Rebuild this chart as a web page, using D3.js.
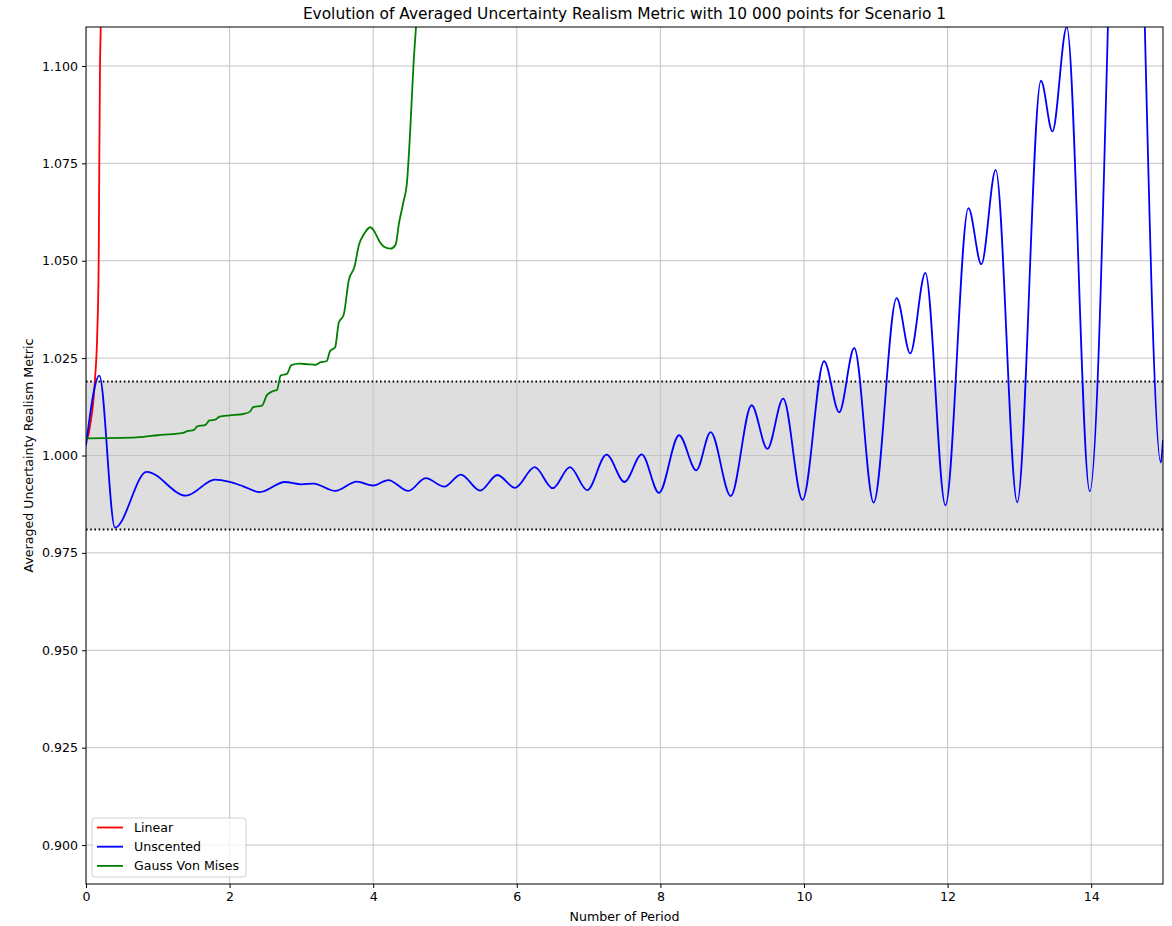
<!DOCTYPE html>
<html>
<head>
<meta charset="utf-8">
<script src="https://cdnjs.cloudflare.com/ajax/libs/d3/7.8.5/d3.min.js"></script>
<style>
    body { margin: 0; background: #fff; }
    svg text { font-family: "DejaVu Sans", sans-serif; fill: #000; }
</style>
</head>
<body>
<div id="chart"></div>
<script>
    /****************************/
    /******data sets & vars******/
    /****************************/
    // values: [number of period, metric]
    var linearData = [
        [0, 1.0040], [0.03, 1.0050], [0.06, 1.0080], [0.10, 1.0135], [0.125, 1.0195],
        [0.157, 1.0315], [0.177, 1.0500], [0.185, 1.0750], [0.195, 1.1000],
        [0.205, 1.1100], [0.215, 1.1300]
    ];
    var unscentedData = [
        [0, 1.0026], [0.186, 1.0205], [0.404, 0.9815], [0.845, 0.9958], [1.393, 0.9897],
        [1.797, 0.9938], [2.0, 0.9932], [2.19, 0.9921], [2.42, 0.9906], [2.77, 0.9932],
        [3.0, 0.9926], [3.17, 0.9928], [3.47, 0.9909], [3.77, 0.9933], [4.0, 0.9923],
        [4.21, 0.9937], [4.49, 0.9909], [4.73, 0.9942], [4.99, 0.9920], [5.22, 0.9951],
        [5.49, 0.9910], [5.73, 0.9950], [5.975, 0.9917], [6.25, 0.9970], [6.50, 0.9916],
        [6.74, 0.9970], [6.98, 0.9911], [7.25, 1.0002], [7.50, 0.9932], [7.74, 1.0003],
        [7.98, 0.9904], [8.26, 1.0052], [8.50, 0.9962], [8.70, 1.0060], [8.98, 0.9896],
        [9.27, 1.0129], [9.49, 1.0017], [9.71, 1.0146], [9.98, 0.9886], [10.28, 1.0242],
        [10.49, 1.0111], [10.70, 1.0276], [10.97, 0.9879], [11.29, 1.0404], [11.48, 1.0262],
        [11.69, 1.0469], [11.97, 0.9872], [12.29, 1.0635], [12.47, 1.0491], [12.67, 1.0733],
        [12.97, 0.9880], [13.30, 1.0962], [13.46, 1.0832], [13.66, 1.1100], [13.98, 0.9908],
        [14.5, 1.2400], [14.97, 0.9982], [15.0, 1.0040]
    ];
    var gaussVonMisesData = [
        [0, 1.0044], [0.5, 1.0045], [0.8, 1.0048], [1.0, 1.0052], [1.2, 1.0055],
        [1.35, 1.0058], [1.42, 1.0063], [1.50, 1.0065], [1.55, 1.0075], [1.66, 1.0078],
        [1.72, 1.0090], [1.80, 1.0092], [1.86, 1.0100], [2.0, 1.0103], [2.2, 1.0107],
        [2.28, 1.0112], [2.33, 1.0124], [2.45, 1.0128], [2.52, 1.0155], [2.60, 1.0165],
        [2.66, 1.0168], [2.71, 1.0205], [2.80, 1.0210], [2.86, 1.0232], [2.97, 1.0236],
        [3.10, 1.0234], [3.20, 1.0233], [3.26, 1.0239], [3.35, 1.0242], [3.40, 1.0268],
        [3.47, 1.0278], [3.52, 1.0340], [3.59, 1.0362], [3.66, 1.0450], [3.74, 1.0485],
        [3.80, 1.0540], [3.87, 1.0568], [3.96, 1.0586], [4.02, 1.0574], [4.09, 1.0549],
        [4.15, 1.0536], [4.24, 1.0531], [4.31, 1.0540], [4.36, 1.0597], [4.42, 1.0650],
        [4.47, 1.0700], [4.52, 1.0850], [4.56, 1.1000], [4.60, 1.1110], [4.65, 1.1250]
    ];
    var bandLow = 0.981;
    var bandHigh = 1.019;
    var xTicks = [0, 2, 4, 6, 8, 10, 12, 14];
    var yTicks = [0.900, 0.925, 0.950, 0.975, 1.000, 1.025, 1.050, 1.075, 1.100];
    var seriesNames = ["Linear", "Unscented", "Gauss Von Mises"];
    var seriesColors = ["#ff0000", "#0000ff", "#008000"];

    var w = 1172;
    var h = 926;
    var plotL = 86, plotR = 1163, plotT = 27, plotB = 884;
    var smallFont = "12.6px";

    var svg = d3.select("#chart")
        .append("svg")
        .attr("width", w)
        .attr("height", h);

    var xScale = d3.scaleLinear().domain([0, 15]).range([plotL, plotR]);
    var yScale = d3.scaleLinear().domain([0.89, 1.11]).range([plotB, plotT]);

    svg.append("clipPath")
        .attr("id", "plotClip")
        .append("rect")
        .attr("x", plotL)
        .attr("y", plotT)
        .attr("width", plotR - plotL)
        .attr("height", plotB - plotT);

    var plot = svg.append("g").attr("clip-path", "url(#plotClip)");

    // grey tolerance band
    plot.append("rect")
        .attr("x", plotL)
        .attr("width", plotR - plotL)
        .attr("y", yScale(bandHigh))
        .attr("height", yScale(bandLow) - yScale(bandHigh))
        .attr("fill", "#dedede");

    /****************************/
    /************grid************/
    /****************************/
    plot.selectAll(".xgrid")
        .data(xTicks)
        .enter()
        .append("line")
        .attr("x1", function(d) { return xScale(d); })
        .attr("x2", function(d) { return xScale(d); })
        .attr("y1", plotT)
        .attr("y2", plotB)
        .attr("stroke", "#c4c4c4")
        .attr("stroke-width", 1);
    plot.selectAll(".ygrid")
        .data(yTicks)
        .enter()
        .append("line")
        .attr("x1", plotL)
        .attr("x2", plotR)
        .attr("y1", function(d) { return yScale(d); })
        .attr("y2", function(d) { return yScale(d); })
        .attr("stroke", "#c4c4c4")
        .attr("stroke-width", 1);

    // dotted band edges
    plot.selectAll(".bandEdge")
        .data([bandLow, bandHigh])
        .enter()
        .append("line")
        .attr("x1", plotL)
        .attr("x2", plotR)
        .attr("y1", function(d) { return yScale(d); })
        .attr("y2", function(d) { return yScale(d); })
        .attr("stroke", "#000")
        .attr("stroke-width", 1.8)
        .attr("stroke-dasharray", "1.6,2.6");

    /****************************/
    /***********curves***********/
    /****************************/
    var line = d3.line()
        .x(function(d) { return xScale(d[0]); })
        .y(function(d) { return yScale(d[1]); })
        .curve(d3.curveMonotoneX);

    var allSeries = [linearData, unscentedData, gaussVonMisesData];
    plot.selectAll(".series")
        .data(allSeries)
        .enter()
        .append("path")
        .attr("d", function(d) { return line(d); })
        .attr("fill", "none")
        .attr("stroke", function(d, i) { return seriesColors[i]; })
        .attr("stroke-width", 1.8)
        .attr("stroke-linejoin", "round");

    /****************************/
    /************axes************/
    /****************************/
    var xAxis = d3.axisBottom(xScale)
        .tickValues(xTicks)
        .tickSize(4)
        .tickPadding(4)
        .tickFormat(d3.format("d"));
    var yAxis = d3.axisLeft(yScale)
        .tickValues(yTicks)
        .tickSize(4)
        .tickPadding(4)
        .tickFormat(d3.format(".3f"));

    var gx = svg.append("g")
        .attr("transform", "translate(0," + plotB + ")")
        .call(xAxis);
    var gy = svg.append("g")
        .attr("transform", "translate(" + plotL + ",0)")
        .call(yAxis);
    [gx, gy].forEach(function(g) {
        g.select(".domain").remove();
        g.selectAll("line").attr("stroke", "#000").attr("stroke-width", 1);
        g.selectAll("text")
            .attr("font-family", "DejaVu Sans")
            .attr("font-size", smallFont)
            .attr("fill", "#000");
    });

    // frame
    svg.append("rect")
        .attr("x", plotL)
        .attr("y", plotT)
        .attr("width", plotR - plotL)
        .attr("height", plotB - plotT)
        .attr("fill", "none")
        .attr("stroke", "#000")
        .attr("stroke-width", 1);

    /****************************/
    /***********labels***********/
    /****************************/
    svg.append("text")
        .attr("x", (plotL + plotR) / 2)
        .attr("y", 19)
        .attr("text-anchor", "middle")
        .attr("font-size", "15.4px")
        .text("Evolution of Averaged Uncertainty Realism Metric with 10 000 points for Scenario 1");
    svg.append("text")
        .attr("x", (plotL + plotR) / 2)
        .attr("y", 921)
        .attr("text-anchor", "middle")
        .attr("font-size", smallFont)
        .text("Number of Period");
    svg.append("text")
        .attr("transform", "translate(32.5," + ((plotT + plotB) / 2) + ") rotate(-90)")
        .attr("text-anchor", "middle")
        .attr("font-size", smallFont)
        .text("Averaged Uncertainty Realism Metric");

    /****************************/
    /***********legend***********/
    /****************************/
    var legend = svg.append("g").attr("transform", "translate(92,818)");
    legend.append("rect")
        .attr("width", 154)
        .attr("height", 59)
        .attr("rx", 3)
        .attr("fill", "#fff")
        .attr("fill-opacity", 0.8)
        .attr("stroke", "#d0d0d0")
        .attr("stroke-width", 1);
    var items = legend.selectAll(".item")
        .data(seriesNames)
        .enter()
        .append("g")
        .attr("transform", function(d, i) { return "translate(0," + (9.5 + i * 19.2) + ")"; });
    items.append("line")
        .attr("x1", 5)
        .attr("x2", 31)
        .attr("stroke", function(d, i) { return seriesColors[i]; })
        .attr("stroke-width", 1.8);
    items.append("text")
        .attr("x", 42)
        .attr("y", 4.4)
        .attr("font-size", smallFont)
        .text(function(d) { return d; });
</script>
</body>
</html>
